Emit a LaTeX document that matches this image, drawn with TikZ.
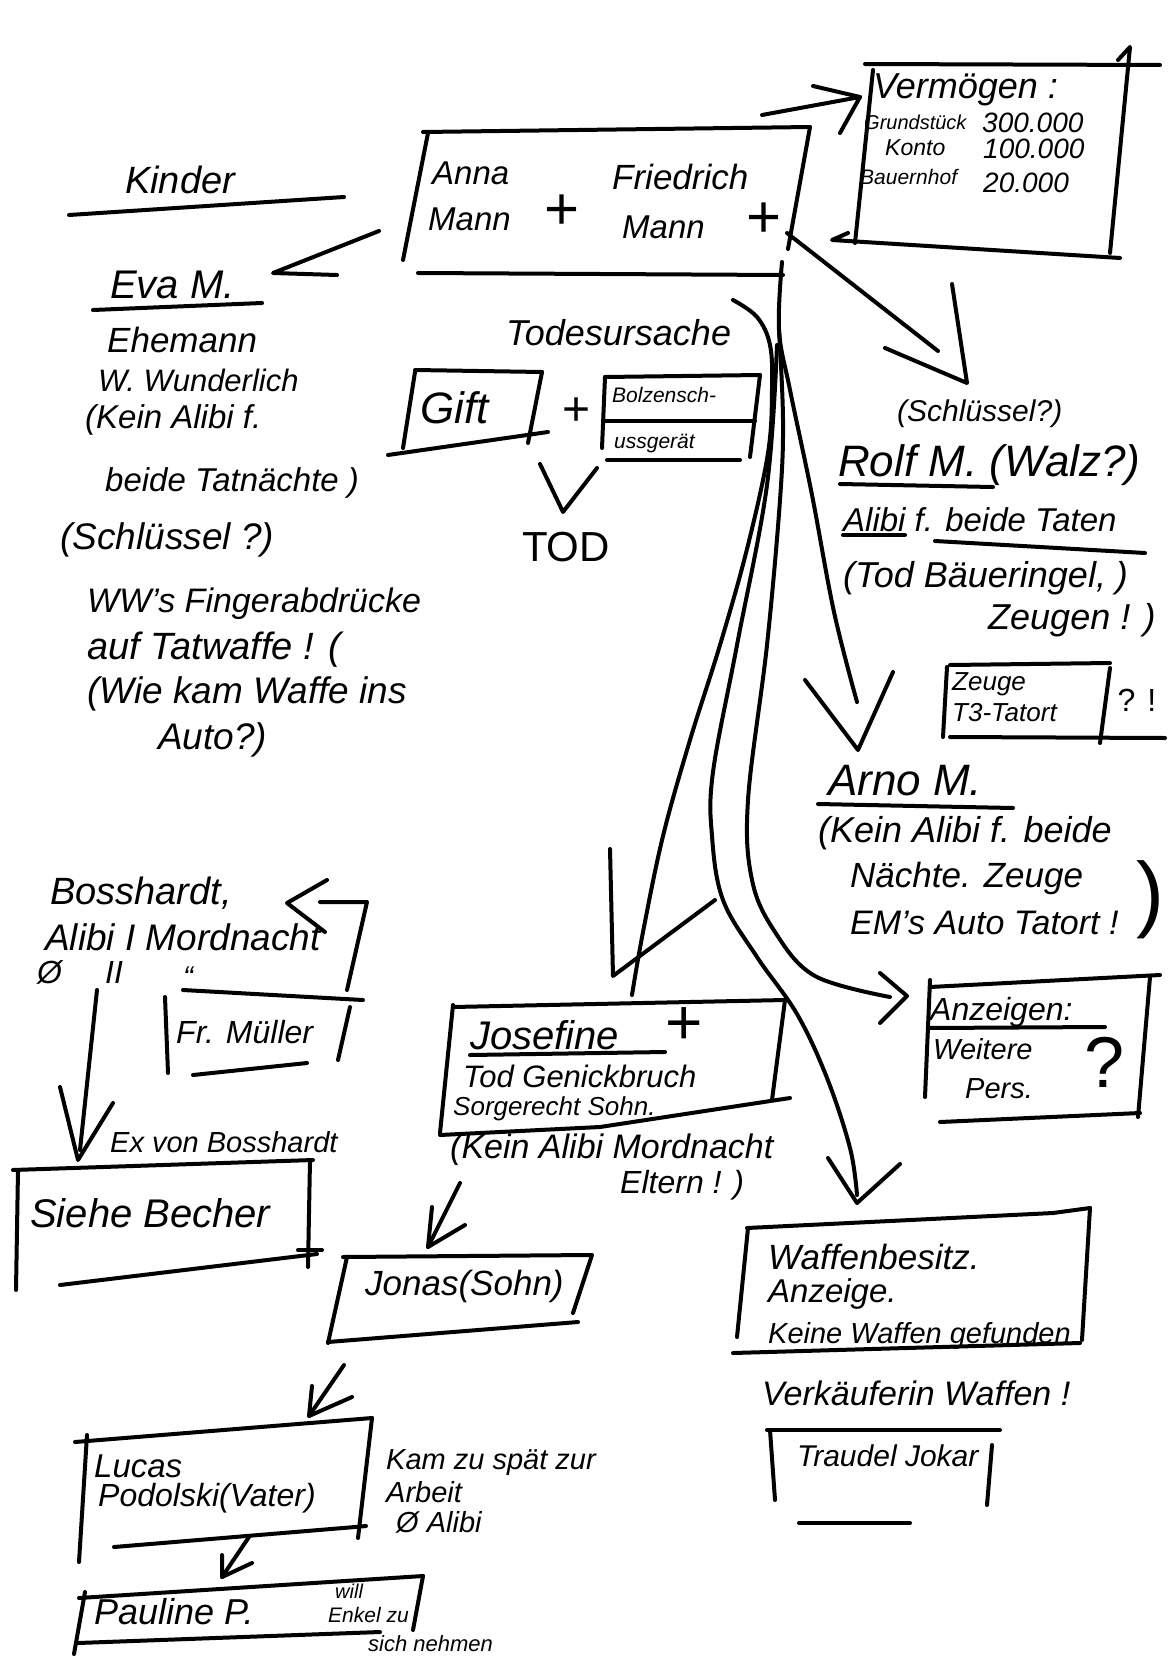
\documentclass[tikz,border=0pt]{standalone}
\usepackage{fontspec}
\setmainfont{Liberation Sans}
\begin{document}
\begin{tikzpicture}[x=1pt,y=-1pt,
  pen/.style={line width=4pt,line cap=round,line join=round},
  hw/.style={font=\fontsize{#1}{#1}\selectfont\itshape,inner sep=0pt,anchor=west},
  hw/.default=32,
  sym/.style={font=\fontsize{#1}{#1}\selectfont,inner sep=0pt,anchor=center},
  sym/.default=60]
\fill[white] (0,0) rectangle (1168,1659);
\useasboundingbox (0,0) rectangle (1168,1659);

% ---------- Kinder
\node[hw=38] (kinder) at (125,180) {Kinder};
\draw[pen] (69,215) -- (344,197);

% ---------- Anna + Friedrich box
\draw[pen] (423,132) -- (810,127);
\draw[pen] (428,133) -- (403,260);
\draw[pen] (810,127) -- (788,249);
\draw[pen] (418,273) -- (783,275);
\node[hw=33] (anna1) at (432,173) {Anna};
\node[hw=33] (anna2) at (428,219) {Mann};
\node[sym=60] (annap) at (562,212) {+};
\node[hw=35] (fried1) at (612,177) {Friedrich};
\node[hw=33] (fried2) at (622,227) {Mann};
\node[sym=60] (friedp) at (764,220) {+};

% ---------- Vermoegen box
\draw[pen] (865,64) -- (1160,65);
\draw[pen] (873,70) -- (855,243);
\draw[pen] (1110,253) -- (1130,47) -- (1118,60);
\draw[pen] (848,233) -- (832,240) -- (1120,258);
\node[hw=36] (verm) at (873,90) {Vermögen :};
\node[hw=20] (vg1) at (864,122) {Grundstück};
\node[hw=28] (vn1) at (982,123) {300.000};
\node[hw=23] (vg2) at (885,148) {Konto};
\node[hw=28] (vn2) at (983,149) {100.000};
\node[hw=21] (vg3) at (860,177) {Bauernhof};
\node[hw=28] (vn3) at (983,183) {20.000};
\coordinate (vS) at (762,115);
\coordinate (vT) at (860,97);
\draw[pen] (vS) -- (vT);
\draw[pen] (813,86) -- (vT) -- (840,133);

% ---------- arrow to Eva
\coordinate (eS) at (379,231);
\coordinate (eT) at (273,273);
\draw[pen] (eS) -- (eT) -- (337,275);

% ---------- Eva block
\node[hw=40] (eva) at (110,285) {Eva M.};
\draw[pen] (93,310) -- (262,303);
\node[hw=35] (e1) at (107,340) {Ehemann};
\node[hw=31] (e2) at (98,380) {W. Wunderlich};
\node[hw=33] (e3) at (85,420) {(Kein Alibi f.};
\node[hw=33] (e4) at (105,483) {beide Tatnächte )};
\node[hw=37] (e5) at (60,540) {(Schlüssel ?)};
\node[hw=34] (e6) at (87,604) {WW's Fingerabdrücke};
\node[hw=38] (e7) at (87,650) {auf Tatwaffe ! (};
\node[hw=37] (e8) at (87,694) {(Wie kam Waffe ins};
\node[hw=37] (e9) at (158,740) {Auto?)};

% ---------- Todesursache
\node[hw=36] (todes) at (506,333) {Todesursache};
\draw[pen] (415,370) -- (542,372);
\draw[pen] (415,372) -- (403,448);
\draw[pen] (542,372) -- (528,443);
\draw[pen] (388,455) -- (548,432);
\node[hw=44] (gift) at (420,408) {Gift};
\node[sym=48] (plus1) at (577,412) {+};
\draw[pen] (605,377) -- (760,375);
\draw[pen] (605,377) -- (602,448);
\draw[pen] (760,375) -- (750,457);
\draw[pen] (605,421) -- (755,421);
\draw[pen] (607,460) -- (740,460);
\node[hw=21] (bolz1) at (612,395) {Bolzensch-};
\node[hw=21] (bolz2) at (614,443) {ussgerät};
\coordinate (vv) at (563,512);
\draw[pen] (540,464) -- (vv) -- (597,468);
\node[sym=42] (tod) at (566,547) {TOD};

% ---------- arrows from parents
\coordinate (stem) at (782,262);
\coordinate (rS) at (787,233);
\coordinate (rT) at (967,383);
\draw[pen] (rS) -- (938,351);
\draw[pen] (952,284) -- (rT) -- (885,348);

\draw[pen] plot[smooth,tension=0.6] coordinates {(stem) (779,330) (790,390) (812,495) (834,612) (857,702)};
\coordinate (aT) at (858,750);
\draw[pen] (805,680) -- (aT) -- (893,672);

\draw[pen] plot[smooth,tension=0.6] coordinates {(779,330) (783,420) (780,500) (767,645) (748,800) (752,880) (775,932) (815,976) (890,997)};
\coordinate (zT) at (907,996);
\draw[pen] (880,973) -- (zT) -- (880,1023);

\draw[pen] plot[smooth,tension=0.6] coordinates {(777,345) (767,485) (737,645) (713,772) (712,836) (723,900) (757,957) (797,1014) (827,1078) (850,1148) (857,1195)};
\coordinate (wT) at (857,1203);
\draw[pen] (828,1158) -- (wT) -- (900,1164);

\draw[pen] plot[smooth,tension=0.6] coordinates {(733,300) (757,317) (770,345) (772,389) (768,453) (747,549) (720,645) (690,740) (663,836) (643,932) (632,995)};
\coordinate (jT) at (613,976);
\draw[pen] (610,849) -- (jT) -- (715,900);

% ---------- Rolf block
\node[hw=30] (schl) at (897,414) {(Schlüssel?)};
\node[hw=44] (rolf) at (838,465) {Rolf M. (Walz?)};
\draw[pen] (840,484) -- (993,487);
\node[hw=33] (r1) at (843,520) {Alibi f. beide Taten};
\draw[pen] (843,535) -- (905,535);
\draw[pen] (935,541) -- (1145,553);
\node[hw=36] (r2) at (843,578) {(Tod Bäueringel, )};
\node[hw=36] (r3) at (988,620) {Zeugen ! )};
\draw[pen] (950,665) -- (1110,663);
\draw[pen] (947,667) -- (943,737);
\draw[pen] (1110,668) -- (1100,743);
\draw[pen] (950,737) -- (1165,738);
\node[hw=26] (zeu1) at (952,684) {Zeuge};
\node[hw=26] (zeu2) at (952,713) {T3-Tatort};
\node[sym=32] (qe) at (1137,700) {? !};

% ---------- Arno block
\node[hw=44] (arno) at (828,781) {Arno M.};
\draw[pen] (818,804) -- (1013,808);
\node[hw=36] (a1) at (818,833) {(Kein Alibi f. beide};
\node[hw=35] (a2) at (850,878) {Nächte. Zeuge};
\node[hw=34] (a3) at (850,923) {EM's Auto Tatort !};
\node[sym=84] (apar) at (1150,900) {)};

% ---------- Anzeigen box
\draw[pen] (930,987) -- (1160,975);
\draw[pen] (930,980) -- (925,1097);
\draw[pen] (1150,977) -- (1138,1117);
\draw[pen] (940,1122) -- (1140,1113);
\node[hw=32] (anz) at (930,1012) {Anzeigen:};
\draw[pen] (928,1028) -- (1105,1027);
\node[hw=29] (anz2) at (933,1049) {Weitere};
\node[hw=29] (anz3) at (965,1089) {Pers.};
\node[sym=72] (anzq) at (1105,1062) {?};

% ---------- Josefine box
\draw[pen] (453,1007) -- (785,1000);
\draw[pen] (453,1005) -- (440,1133);
\draw[pen] (785,1000) -- (772,1100);
\draw[pen] (440,1135) -- (600,1127) -- (790,1098);
\node[hw=40] (jos) at (470,1035) {Josefine};
\draw[pen] (470,1055) -- (665,1052);
\node[sym=64] (josp) at (684,1026) {+};
\node[hw=31] (j1) at (463,1076) {Tod Genickbruch};
\node[hw=26] (j2) at (453,1109) {Sorgerecht Sohn.};
\node[hw=34] (j3) at (450,1150) {(Kein Alibi Mordnacht};
\node[hw=32] (j4) at (620,1185) {Eltern ! )};

% ---------- Bosshardt
\node[hw=38] (boss) at (50,893) {Bosshardt,};
\node[hw=37] (b1) at (45,937) {Alibi I Mordnacht};
\node[hw=32] (b2) at (37,972) {Ø};
\node[hw=32] (b3) at (105,972) {II};
\node[hw=30] (b4) at (183,977) {“};
\coordinate (bT) at (287,903);
\draw[pen] (327,880) -- (bT) -- (325,932);
\draw[pen] (320,902) -- (367,902) -- (347,990);
\draw[pen] (183,990) -- (363,1000);
\draw[pen] (165,997) -- (168,1073);
\draw[pen] (350,1007) -- (338,1060);
\draw[pen] (193,1075) -- (307,1063);
\node[hw=32] (mue) at (176,1032) {Fr. Müller};
\coordinate (sT) at (78,1160);
\draw[pen] (97,990) -- (80,1150);
\draw[pen] (60,1087) -- (sT) -- (113,1103);
\node[hw=29] (ex) at (110,1142) {Ex von Bosshardt};
\draw[pen] (13,1170) -- (313,1160);
\draw[pen] (18,1170) -- (16,1290);
\draw[pen] (310,1160) -- (308,1267);
\draw[pen] (298,1250) -- (322,1250);
\draw[pen] (60,1285) -- (317,1254);
\node[hw=40] (sieh) at (30,1213) {Siehe Becher};

% ---------- Jonas
\coordinate (joT) at (428,1247);
\draw[pen] (460,1183) -- (joT);
\draw[pen] (432,1207) -- (joT) -- (465,1225);
\draw[pen] (343,1257) -- (590,1255);
\draw[pen] (347,1257) -- (328,1343);
\draw[pen] (592,1255) -- (573,1313);
\draw[pen] (328,1342) -- (578,1322);
\node[hw=35] (jonas) at (365,1286) {Jonas(Sohn)};

% ---------- Lucas
\coordinate (lT) at (309,1416);
\draw[pen] (344,1365) -- (lT);
\draw[pen] (312,1386) -- (lT) -- (352,1397);
\draw[pen] (75,1442) -- (372,1418);
\draw[pen] (87,1435) -- (79,1562);
\draw[pen] (372,1418) -- (358,1538);
\draw[pen] (114,1547) -- (355,1527) -- (366,1526);
\node[hw=33] (luc1) at (94,1466) {Lucas};
\node[hw=32] (luc2) at (98,1498) {Podolski(Vater)};
\node[hw=29] (k1) at (386,1463) {Kam zu spät zur};
\node[hw=29] (k2) at (386,1492) {Arbeit};
\node[hw=29] (k3) at (396,1522) {Ø Alibi};

% ---------- Pauline
\coordinate (pT) at (222,1577);
\draw[pen] (249,1537) -- (pT);
\draw[pen] (222,1555) -- (pT) -- (252,1563);
\draw[pen] (79,1598) -- (423,1576);
\draw[pen] (85,1592) -- (74,1654);
\draw[pen] (423,1576) -- (413,1630);
\draw[pen] (78,1643) -- (380,1632);
\node[hw=36] (paul) at (94,1612) {Pauline P.};
\node[hw=20] (w1) at (335,1591) {will};
\node[hw=21] (w2) at (328,1615) {Enkel zu};
\node[hw=22] (w3) at (368,1644) {sich nehmen};

% ---------- Waffenbesitz
\draw[pen] (747,1228) -- (1053,1213) -- (1090,1208);
\draw[pen] (748,1228) -- (737,1337);
\draw[pen] (1090,1208) -- (1082,1340);
\draw[pen] (733,1353) -- (1080,1343);
\node[hw=35] (waf1) at (768,1257) {Waffenbesitz.};
\node[hw=33] (waf2) at (768,1294) {Anzeige.};
\node[hw=29] (waf3) at (768,1336) {Keine Waffen gefunden};
\node[hw=34] (waf4) at (762,1393) {Verkäuferin Waffen !};
\draw[pen] (767,1430) -- (1000,1430);
\draw[pen] (770,1430) -- (775,1500);
\draw[pen] (992,1445) -- (987,1505);
\draw[pen] (799,1523) -- (910,1523);
\node[hw=30] (trau) at (797,1456) {Traudel Jokar};
\end{tikzpicture}
\end{document}
